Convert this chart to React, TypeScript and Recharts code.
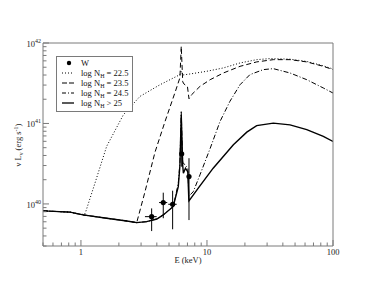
import React from 'react';
import { ComposedChart, Line, Scatter, ErrorBar, XAxis, YAxis, Legend, Label } from 'recharts';

const FONT = '"Liberation Serif", "Times New Roman", serif';
const AXIS = '#7a7a7a';

// log NH > 25
const solidE = [0.5, 0.82, 1.04, 1.6, 2.31, 2.77, 3.32, 4.0, 4.5, 5.4, 5.92, 6.1, 6.25, 6.42, 6.5, 6.75, 7.05, 7.17, 7.2, 8.53, 11.2, 16.2, 20.7, 24.8, 33.6, 45.6, 61.9, 83.8, 100];
const solidL = [8.2e39, 7.9e39, 7.3e39, 6.64e39, 6.14e39, 5.85e39, 6.02e39, 6.5e39, 7.3e39, 9.3e39, 1.64e40, 3.0e40, 1.28e41, 3.0e40, 2.41e40, 2.78e40, 2.5e40, 1.18e40, 1.09e40, 1.57e40, 2.78e40, 5.43e40, 7.8e40, 9.4e40, 1.01e41, 9.6e40, 8.4e40, 6.9e40, 5.97e40];

// log NH = 24.5
const dashDotE = [0.5, 0.82, 1.04, 1.6, 2.31, 2.77, 3.32, 4.0, 4.5, 5.4, 5.92, 6.1, 6.25, 6.42, 6.75, 7.05, 7.17, 7.79, 8.8, 10.6, 12.7, 15.2, 18.3, 21.9, 28, 33.6, 45.6, 61.9, 83.8, 100];
const dashDotL = [8.2e39, 7.9e39, 7.3e39, 6.64e39, 6.14e39, 5.85e39, 6.02e39, 6.5e39, 7.3e39, 9.3e39, 1.8e40, 3.2e40, 1.4e41, 3.3e40, 3.0e40, 2.8e40, 1.25e40, 1.42e40, 2.3e40, 4.9e40, 1.06e41, 1.88e41, 3.03e41, 4.04e41, 4.67e41, 4.8e41, 4.24e41, 3.5e41, 2.76e41, 2.39e41];

// log NH = 23.5
const dashedE = [0.5, 0.82, 1.04, 1.6, 2.31, 2.77, 3.22, 3.87, 4.64, 5.57, 6.1, 6.25, 6.42, 6.56, 7.0, 7.2, 7.56, 8.8, 10.6, 13.5, 18.3, 24.8, 33.6, 45.6, 61.9, 83.8, 100];
const dashedL = [8.2e39, 7.9e39, 7.3e39, 6.64e39, 6.14e39, 5.85e39, 1.41e40, 4.4e40, 1.05e41, 2.41e41, 3.7e41, 9.1e41, 3.3e41, 3.1e41, 2.87e41, 2.03e41, 2.28e41, 2.89e41, 3.5e41, 4.24e41, 5.13e41, 5.82e41, 6.21e41, 6.21e41, 5.82e41, 5.13e41, 4.67e41];

// log NH = 22.5
const dottedE = [0.5, 0.82, 1.0, 1.08, 1.29, 1.6, 2.17, 2.94, 4.24, 6.1, 6.25, 6.42, 7.33, 9.95, 13.5, 18.3, 24.8, 31.6, 45.6, 61.9, 83.8, 100];
const dottedL = [8.2e39, 7.9e39, 7.35e39, 7.6e39, 1.8e40, 5.2e40, 1.28e41, 2.17e41, 3.03e41, 4.04e41, 4.5e41, 4.0e41, 4.12e41, 4.45e41, 4.9e41, 5.65e41, 6.21e41, 6.4e41, 6.3e41, 5.9e41, 5.2e41, 4.75e41];

// W data points
const wE = [3.64, 4.5, 5.34, 6.3, 7.2];
const wElo = [3.22, 4.17, 4.93, 6.2, 7.15];
const wEhi = [3.99, 4.84, 5.75, 6.4, 7.25];
const wL = [6.95e39, 1.04e40, 9.9e39, 4.2e40, 2.19e40];
const wLlo = [4.6e39, 6.64e39, 4.84e39, 2.9e40, 6.3e39];
const wLhi = [8.8e39, 1.38e40, 1.46e40, 6.5e40, 3.7e40];

const xMajor = [1, 10, 100];
const xTicks = [0.5, 0.6, 0.7, 0.8, 0.9, 1, 2, 3, 4, 5, 6, 7, 8, 9, 10, 20, 30, 40, 50, 60, 70, 80, 90, 100];
const yMajor = [1e40, 1e41, 1e42];
const yTicks = [3e39, 4e39, 5e39, 6e39, 7e39, 8e39, 9e39, 1e40, 2e40, 3e40, 4e40, 5e40, 6e40, 7e40, 8e40, 9e40, 1e41, 2e41, 3e41, 4e41, 5e41, 6e41, 7e41, 8e41, 9e41, 1e42];

const legendItems = [
  { label: 'W', kind: 'dot' },
  { label: '22.5', kind: 'line', dash: '1 2', sign: '=' },
  { label: '23.5', kind: 'line', dash: '5 2', sign: '=' },
  { label: '24.5', kind: 'line', dash: '4 2 1 2', sign: '=' },
  { label: '25', kind: 'line', dash: undefined, sign: '>' },
];

const zip = (es: number[], ls: number[]) => es.map((e, i) => ({ e, l: ls[i] }));

const wData = wE.map((e, i) => ({
  e,
  l: wL[i],
  ex: [e - wElo[i], wEhi[i] - e],
  ey: [wL[i] - wLlo[i], wLhi[i] - wL[i]],
}));

const XTick = ({ x, y, payload }: any) => {
  const major = xMajor.includes(payload.value);
  return (
    <g>
      <line x1={x} x2={x} y1={y} y2={y - (major ? 6 : 3.5)} stroke={AXIS} />
      {major && (
        <text x={x} y={y + 9} textAnchor="middle" fontSize={8.5} fontFamily={FONT} fill="#222">
          {payload.value}
        </text>
      )}
    </g>
  );
};

const YTick = ({ x, y, payload }: any) => {
  const major = yMajor.includes(payload.value);
  const exp = Math.round(Math.log10(payload.value));
  return (
    <g>
      <line x1={x} x2={x + (major ? 6 : 3.5)} y1={y} y2={y} stroke={AXIS} />
      {major && (
        <text x={x - 2} y={y + 4} textAnchor="end" fontSize={8.5} fontFamily={FONT} fill="#222">
          10<tspan dy={-4} fontSize={6}>{exp}</tspan>
        </text>
      )}
    </g>
  );
};

const LegendBox = () => (
  <div
    style={{
      border: `1px solid ${AXIS}`,
      background: '#fff',
      padding: '1px 4px 3px 4px',
      fontFamily: FONT,
      fontSize: 8.5,
      color: '#111',
      lineHeight: '10px',
    }}
  >
    {legendItems.map((it) => (
      <div key={it.label} style={{ display: 'flex', alignItems: 'center', height: 10, whiteSpace: 'nowrap' }}>
        <svg width={14} height={8} style={{ marginRight: 6 }}>
          {it.kind === 'dot' ? (
            <circle cx={8} cy={4} r={2.2} fill="#000" />
          ) : (
            <line x1={1} x2={13} y1={4} y2={4} stroke="#000" strokeWidth={it.dash ? 1 : 1.3} strokeDasharray={it.dash} />
          )}
        </svg>
        {it.kind === 'dot' ? (
          <span>W</span>
        ) : (
          <span>
            log N<span style={{ fontSize: 6, position: 'relative', top: 2 }}>H</span> {it.sign} {it.label}
          </span>
        )}
      </div>
    ))}
  </div>
);

export default function App() {
  return (
    <div style={{ position: 'absolute', left: 0, top: 0, width: 374, height: 289, background: '#fff' }}>
      <ComposedChart width={374} height={289} margin={{ top: 42, right: 40, bottom: 42, left: 42 }}>
        <XAxis
          dataKey="e"
          type="number"
          scale="log"
          domain={[0.5, 100]}
          allowDataOverflow
          ticks={xTicks}
          interval={0}
          tick={<XTick />}
          tickLine={false}
          tickSize={0}
          tickMargin={0}
          height={1}
          axisLine={{ stroke: AXIS }}
        >
          <Label
            content={() => (
              <text x={188} y={263} textAnchor="middle" fontSize={8.5} fontFamily={FONT} fill="#222">
                E (keV)
              </text>
            )}
          />
        </XAxis>
        <XAxis xAxisId="top" orientation="top" type="number" scale="log" domain={[0.5, 100]} tick={false} tickLine={false} height={1} axisLine={{ stroke: AXIS }} />
        <YAxis
          dataKey="l"
          type="number"
          scale="log"
          domain={[3e39, 1e42]}
          allowDataOverflow
          ticks={yTicks}
          interval={0}
          tick={<YTick />}
          tickLine={false}
          tickSize={0}
          tickMargin={0}
          width={1}
          axisLine={{ stroke: AXIS }}
        >
          <Label
            content={() => (
              <text transform="translate(21,145) rotate(-90)" textAnchor="middle" fontSize={8.5} fontFamily={FONT} fill="#222">
                ν L<tspan dy={2} fontSize={6}>ν</tspan>
                <tspan dy={-2}> (erg s</tspan>
                <tspan dy={-3} fontSize={6}>-1</tspan>
                <tspan dy={3}>)</tspan>
              </text>
            )}
          />
        </YAxis>
        <YAxis yAxisId="right" orientation="right" type="number" scale="log" domain={[3e39, 1e42]} tick={false} tickLine={false} width={1} axisLine={{ stroke: AXIS }} />
        <Line data={zip(dottedE, dottedL)} dataKey="l" type="linear" stroke="#000" strokeWidth={1} strokeDasharray="1 2" dot={false} isAnimationActive={false} />
        <Line data={zip(dashedE, dashedL)} dataKey="l" type="linear" stroke="#000" strokeWidth={1} strokeDasharray="5 3" dot={false} isAnimationActive={false} />
        <Line data={zip(dashDotE, dashDotL)} dataKey="l" type="linear" stroke="#000" strokeWidth={1} strokeDasharray="5 2 1 2" dot={false} isAnimationActive={false} />
        <Line data={zip(solidE, solidL)} dataKey="l" type="linear" stroke="#000" strokeWidth={1.4} dot={false} isAnimationActive={false} />
        <Scatter
          data={wData}
          dataKey="l"
          fill="#000"
          isAnimationActive={false}
          shape={(p: any) => <circle cx={p.cx} cy={p.cy} r={2.6} fill="#000" />}
        >
          <ErrorBar dataKey="ey" direction="y" width={0} stroke="#000" strokeWidth={1} isAnimationActive={false} />
          <ErrorBar dataKey="ex" direction="x" width={0} stroke="#000" strokeWidth={1} isAnimationActive={false} />
        </Scatter>
        <Legend
          layout="vertical"
          align="center"
          verticalAlign="middle"
          content={() => <LegendBox />}
          wrapperStyle={{ left: 56, top: 56, width: 'auto', height: 'auto' }}
        />
      </ComposedChart>
    </div>
  );
}
